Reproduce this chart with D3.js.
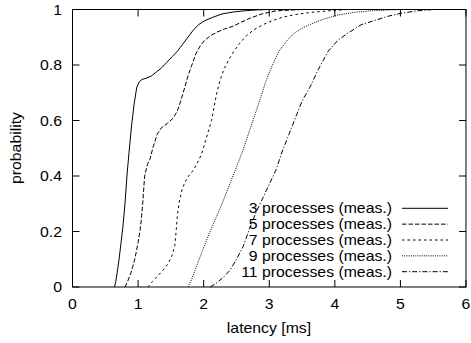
<!DOCTYPE html>
<html>
<head>
<meta charset="utf-8">
<script src="https://cdn.jsdelivr.net/npm/d3@7"></script>
<style>
  html, body { margin: 0; padding: 0; background: #fff; }
  svg text { font-family: "Liberation Sans", Arial, sans-serif; font-size: 14px; fill: #000; }
</style>
</head>
<body>
<svg id="chart" width="471" height="343"></svg>
<script>
// latency [ms] / cumulative probability
const lat3  = [0.64,0.66,0.68,0.71,0.74,0.77,0.80,0.83,0.86,0.90,0.94,0.98,1.02,1.06,1.12,1.20,1.28,1.36,1.44,1.52,1.60,1.68,1.76,1.84,1.92,2.02,2.14,2.28,2.45,2.65,2.85,3.0,6];
const prob3 = [0,0.02,0.05,0.10,0.16,0.22,0.30,0.40,0.48,0.58,0.66,0.72,0.74,0.748,0.752,0.76,0.775,0.79,0.81,0.83,0.85,0.875,0.90,0.925,0.945,0.96,0.972,0.984,0.991,0.996,0.999,1,1];

const lat5  = [0.80,0.84,0.89,0.95,1.00,1.04,1.07,1.10,1.14,1.18,1.23,1.29,1.36,1.45,1.54,1.60,1.65,1.70,1.76,1.82,1.88,1.95,2.02,2.10,2.20,2.32,2.45,2.58,2.72,2.90,3.1,3.5,6];
const prob5 = [0,0.02,0.05,0.10,0.16,0.22,0.30,0.40,0.44,0.46,0.505,0.55,0.575,0.59,0.61,0.635,0.67,0.71,0.76,0.80,0.84,0.87,0.89,0.905,0.918,0.93,0.94,0.955,0.97,0.985,0.995,1,1];

const lat7  = [1.15,1.22,1.30,1.38,1.46,1.52,1.56,1.58,1.60,1.63,1.67,1.71,1.77,1.84,1.91,1.97,2.02,2.07,2.12,2.16,2.20,2.25,2.31,2.38,2.46,2.55,2.65,2.76,2.90,3.05,3.20,3.40,3.65,3.90,4.2,6];
const prob7 = [0,0.02,0.04,0.06,0.085,0.115,0.15,0.2,0.26,0.31,0.35,0.375,0.40,0.42,0.45,0.48,0.52,0.56,0.60,0.65,0.70,0.745,0.785,0.818,0.85,0.878,0.905,0.926,0.945,0.96,0.972,0.982,0.99,0.995,1,1];

const lat9  = [1.76,1.82,1.90,1.98,2.08,2.18,2.28,2.38,2.48,2.58,2.68,2.78,2.88,2.96,3.05,3.15,3.26,3.38,3.52,3.68,3.85,4.05,4.30,4.60,5.0,6];
const prob9 = [0,0.03,0.08,0.13,0.19,0.245,0.30,0.36,0.42,0.48,0.55,0.62,0.69,0.75,0.80,0.85,0.885,0.915,0.935,0.952,0.967,0.98,0.99,0.996,1,1];

const lat11  = [2.10,2.20,2.30,2.40,2.50,2.60,2.70,2.80,2.90,3.00,3.10,3.20,3.30,3.40,3.50,3.62,3.75,3.90,4.05,4.20,4.40,4.60,4.80,5.00,5.25,5.5,6];
const prob11 = [0,0.015,0.035,0.06,0.10,0.145,0.21,0.27,0.32,0.37,0.42,0.49,0.55,0.61,0.67,0.72,0.785,0.85,0.89,0.915,0.945,0.96,0.975,0.986,0.995,1,1];

const seriesNames = ["3 processes (meas.)", "5 processes (meas.)", "7 processes (meas.)", "9 processes (meas.)", "11 processes (meas.)"];
const xTicks = [0, 1, 2, 3, 4, 5, 6];
const yTicks = [0, 0.2, 0.4, 0.6, 0.8, 1];

const dashes = [null, "4.5,2", "2.5,3", "1,1.2", "5,2,1.2,2"];
const series = [[lat3, prob3], [lat5, prob5], [lat7, prob7], [lat9, prob9], [lat11, prob11]]
    .map((s, i) => ({ name: seriesNames[i], dash: dashes[i], pts: s[0].map((x, j) => [x, s[1][j]]) }));

const plotL = 72.5, plotR = 466, plotT = 9.5, plotB = 287;
const stretch = 1.13; // text in the original is a bit wider than plain Arial
const svg = d3.select("#chart");

const x = d3.scaleLinear().domain([0, 6]).range([plotL, plotR]);
const y = d3.scaleLinear().domain([0, 1]).range([plotB, plotT]);

function label(g, px, py, txt, anchor) {
    return g.append("text")
        .attr("transform", `translate(${px},${py}) scale(${stretch},1)`)
        .attr("text-anchor", anchor)
        .text(txt);
}

// inward ticks on all four sides
const tl = 7;
const ticks = svg.append("g").attr("stroke", "#000").attr("stroke-width", 1);
xTicks.forEach(t => {
    ticks.append("line").attr("x1", x(t)).attr("x2", x(t)).attr("y1", plotB).attr("y2", plotB - tl);
    ticks.append("line").attr("x1", x(t)).attr("x2", x(t)).attr("y1", plotT).attr("y2", plotT + tl);
});
yTicks.forEach(t => {
    ticks.append("line").attr("x1", plotL).attr("x2", plotL + tl).attr("y1", y(t)).attr("y2", y(t));
    ticks.append("line").attr("x1", plotR).attr("x2", plotR - tl).attr("y1", y(t)).attr("y2", y(t));
});

const labels = svg.append("g");
xTicks.forEach(t => label(labels, x(t), 309, d3.format("d")(t), "middle"));
yTicks.forEach(t => label(labels, 62, y(t) + 5, t === 0 || t === 1 ? String(t) : t.toFixed(1), "end"));

label(labels, 269, 333, "latency [ms]", "middle");
labels.append("text")
    .attr("transform", `translate(21,148) rotate(-90) scale(${stretch},1)`)
    .attr("text-anchor", "middle")
    .text("probability");

// curves
const line = d3.line().x(d => x(d[0])).y(d => y(d[1]));
svg.append("g")
    .selectAll("path")
    .data(series)
    .enter()
    .append("path")
    .attr("d", d => line(d.pts))
    .attr("fill", "none")
    .attr("stroke", "#000")
    .attr("stroke-width", 1)
    .attr("stroke-dasharray", d => d.dash);

// legend
const leg = svg.append("g");
series.forEach((s, i) => {
    const ry = 208.3 + i * 15.85;
    label(leg, 392, ry + 5, s.name, "end");
    leg.append("line")
        .attr("x1", 402).attr("x2", 448)
        .attr("y1", ry).attr("y2", ry)
        .attr("stroke", "#000").attr("stroke-width", 1)
        .attr("stroke-dasharray", s.dash);
});

// frame
svg.append("rect")
    .attr("x", plotL).attr("y", plotT)
    .attr("width", plotR - plotL).attr("height", plotB - plotT)
    .attr("fill", "none").attr("stroke", "#000").attr("stroke-width", 1);
</script>
</body>
</html>
